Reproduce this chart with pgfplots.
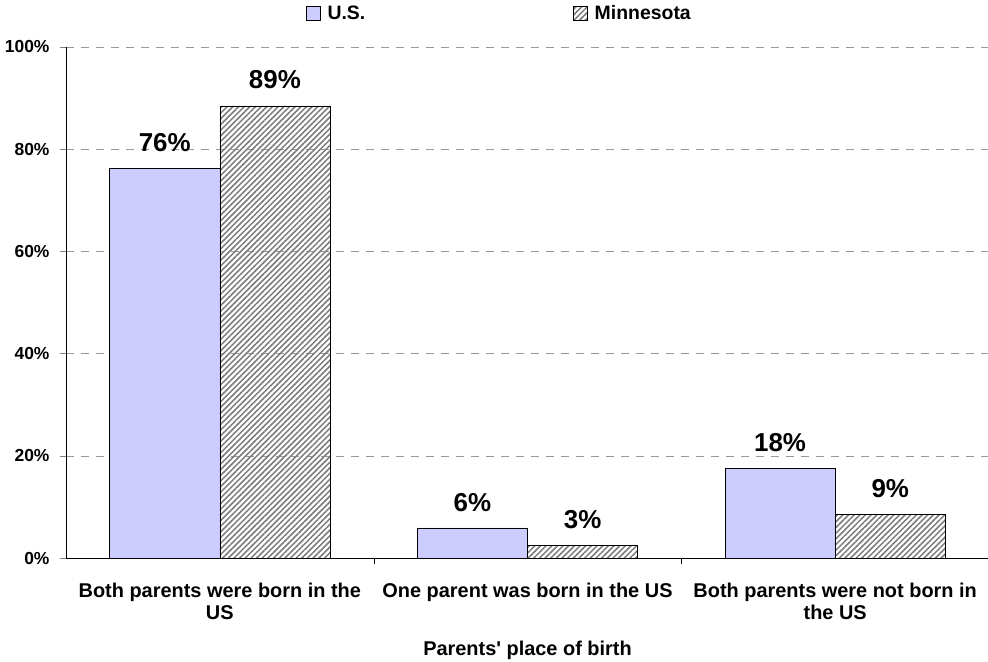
\documentclass[border=0pt]{standalone}
\usepackage{pgfplots}
\pgfplotsset{compat=1.18}
\usepackage{fontspec}
\setmainfont{Liberation Sans}
\usetikzlibrary{patterns.meta}
\definecolor{usfill}{RGB}{204,204,255}
\pgfplotsset{sqlegend/.style={legend image code/.code={\draw[##1] (0bp,-7bp) rectangle (14bp,7bp);}}}
\begin{document}
\begin{tikzpicture}
\begin{axis}[
  name=ax,
  scale only axis, width=923bp, height=511bp,
  ybar=0pt, bar width=0.358,
  xmin=-0.5, xmax=2.5, ymin=0, ymax=100,
  axis x line*=bottom, axis y line*=left,
  xtick={0,1,2},
  xticklabels={{Both parents were born in the\\US},{One parent was born in the US},{Both parents were not born in\\the US}},
  xticklabel style={align=center, yshift=-16bp, font=\bfseries\fontsize{20}{22}\selectfont},
  major x tick style={draw=none},
  extra x ticks={0.5,1.5}, extra x tick labels={},
  extra x tick style={major tick length=6bp, major x tick style={draw=black}, tick align=outside, grid=none},
  ytick={0,20,40,60,80,100},
  yticklabels={0\%,20\%,40\%,60\%,80\%,100\%},
  yticklabel style={xshift=-7bp, font=\bfseries\fontsize{17.5}{21}\selectfont},
  tick align=outside, major tick length=6bp,
  ymajorgrids, grid style={gray!80, dash pattern=on 8bp off 7bp},
  xlabel={Parents\textquotesingle\ place of birth},
  xlabel style={at={(axis description cs:0.5,0)}, anchor=center, yshift=-92bp, font=\bfseries\fontsize{20}{24}\selectfont},
  point meta=explicit symbolic,
  nodes near coords={\pgfplotspointmeta\%},
  every node near coord/.append style={font=\bfseries\fontsize{26}{30}\selectfont, yshift=13bp, text=black},
  legend columns=2,
  legend style={draw=none, at={(0.26,1.0665)}, anchor=west, inner sep=0pt,
    font=\bfseries\fontsize{19.5}{22}\selectfont,
    /tikz/every odd column/.append style={column sep=5bp},
    /tikz/every even column/.append style={column sep=206bp}},
]
\addplot[draw=black, fill=usfill, sqlegend]
  coordinates {(0,76.3) [76] (1,5.9) [6] (2,17.5) [18]};
\addplot[draw=black, pattern={Lines[angle=45, distance=4bp, line width=1.5bp]}, pattern color=gray!95!black, sqlegend]
  coordinates {(0,88.5) [89] (1,2.5) [3] (2,8.5) [9]};
\legend{U.S., Minnesota}
\end{axis}
\pgfresetboundingbox
\path[use as bounding box] ([xshift=-66bp,yshift=-104bp]ax.south west) rectangle ([xshift=-1bp,yshift=47bp]ax.north east);
\end{tikzpicture}
\end{document}
